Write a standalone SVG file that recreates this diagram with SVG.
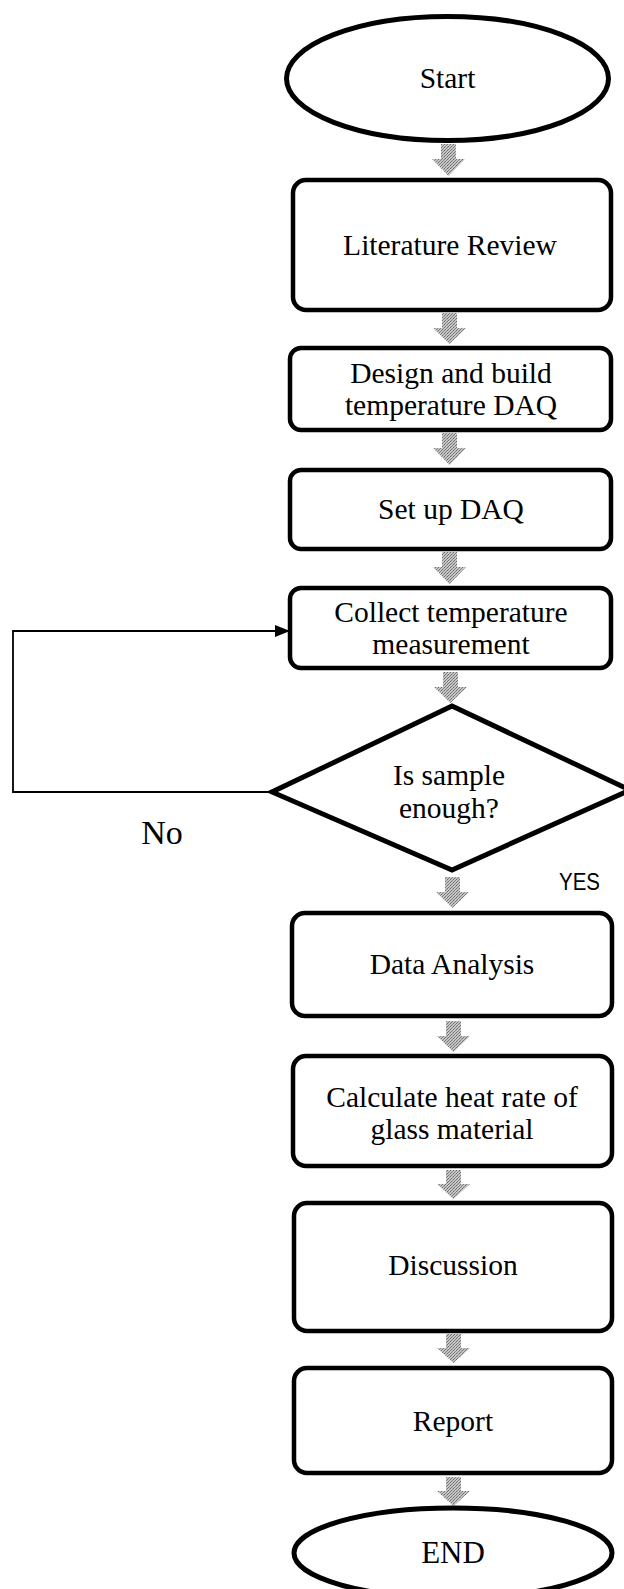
<svg xmlns="http://www.w3.org/2000/svg" width="624" height="1589" viewBox="0 0 624 1589">
<defs>
<pattern id="dith" width="3" height="3" patternUnits="userSpaceOnUse">
<rect width="3" height="3" fill="#c4c4c4"/>
<rect x="0" y="0" width="1" height="1" fill="#6e6e6e"/>
<rect x="2" y="1" width="1" height="1" fill="#8a8a8a"/>
<rect x="1" y="2" width="1" height="1" fill="#7a7a7a"/>
</pattern>
<marker id="ah" markerWidth="15" markerHeight="12" refX="14" refY="6" orient="auto" markerUnits="userSpaceOnUse" viewBox="0 0 15 12">
<path d="M0,0 L15,6 L0,12 Z" fill="#000"/>
</marker>
</defs>
<style>
.box{fill:#fff;stroke:#000;stroke-width:4.5}
.t{font-family:"Liberation Serif","Times New Roman",serif;font-size:29.5px;fill:#000;text-anchor:middle}
.s{font-family:"Liberation Sans",Arial,sans-serif;font-size:23px;fill:#000}
.blk{fill:url(#dith);stroke:none}
.ln{fill:none;stroke:#000;stroke-width:1.8}
</style>
<rect width="624" height="1589" fill="#fff"/>
<g id="connectors">
<path class="blk" d="M441,144 H456 V159 H465 L448.5,176 L432,159 H441 Z"/>
<path class="blk" d="M442,313 H457 V328 H466 L449.5,344 L433,328 H442 Z"/>
<path class="blk" d="M442,433 H457 V448 H466 L449.5,465 L433,448 H442 Z"/>
<path class="blk" d="M442,552 H457 V567 H466 L449.5,584 L433,567 H442 Z"/>
<path class="blk" d="M443,672 H458 V687 H467 L450.5,703 L434,687 H443 Z"/>
<path class="blk" d="M445,877 H460 V892 H469 L452.5,908 L436,892 H445 Z"/>
<path class="blk" d="M446,1021 H461 V1036 H470 L453.5,1052 L437,1036 H446 Z"/>
<path class="blk" d="M446,1170 H461 V1184 H470 L453.5,1199 L437,1184 H446 Z"/>
<path class="blk" d="M446,1334 H461 V1348 H470 L453.5,1363 L437,1348 H446 Z"/>
<path class="blk" d="M446,1477 H461 V1491 H470 L453.5,1506 L437,1491 H446 Z"/>
<path class="ln" d="M272,792 H13 V631 H289" marker-end="url(#ah)"/>
<text class="t" x="162" y="844" style="font-size:34px">No</text>
<text class="s" x="559" y="890" textLength="41" lengthAdjust="spacingAndGlyphs">YES</text>
</g>
<g id="start">
<ellipse cx="447.5" cy="78.5" rx="161" ry="62" fill="#fff" stroke="#000" stroke-width="5"/>
<text class="t" x="447.5" y="88">Start</text>
</g>
<g id="literature">
<rect class="box" x="293" y="180" width="318" height="130" rx="13"/>
<text class="t" x="450" y="255">Literature Review</text>
</g>
<g id="design">
<rect class="box" x="290" y="348" width="321" height="82" rx="11"/>
<text class="t" x="451" y="383">Design and build</text>
<text class="t" x="451" y="415">temperature DAQ</text>
</g>
<g id="setup">
<rect class="box" x="290" y="470" width="321" height="79" rx="11"/>
<text class="t" x="451" y="519">Set up DAQ</text>
</g>
<g id="collect">
<rect class="box" x="290" y="588" width="321" height="80" rx="11"/>
<text class="t" x="451" y="622">Collect temperature</text>
<text class="t" x="451" y="654">measurement</text>
</g>
<g id="decision">
<polygon points="452,706 630,790 452,870 272,792" fill="#fff" stroke="#000" stroke-width="5" stroke-linejoin="miter"/>
<text class="t" x="449" y="785">Is sample</text>
<text class="t" x="449" y="818">enough?</text>
</g>
<g id="analysis">
<rect class="box" x="292" y="913" width="320" height="103" rx="13"/>
<text class="t" x="452" y="974">Data Analysis</text>
</g>
<g id="calculate">
<rect class="box" x="293" y="1056" width="319" height="110" rx="13"/>
<text class="t" x="452" y="1107">Calculate heat rate of</text>
<text class="t" x="452" y="1139">glass material</text>
</g>
<g id="discussion">
<rect class="box" x="294" y="1203" width="318" height="128" rx="13"/>
<text class="t" x="453" y="1275">Discussion</text>
</g>
<g id="report">
<rect class="box" x="294" y="1368" width="318" height="105" rx="13"/>
<text class="t" x="453" y="1431">Report</text>
</g>
<g id="end">
<ellipse cx="453" cy="1553" rx="159" ry="45" fill="#fff" stroke="#000" stroke-width="5"/>
<text class="t" x="453" y="1563" style="font-size:31px">END</text>
</g>
</svg>
